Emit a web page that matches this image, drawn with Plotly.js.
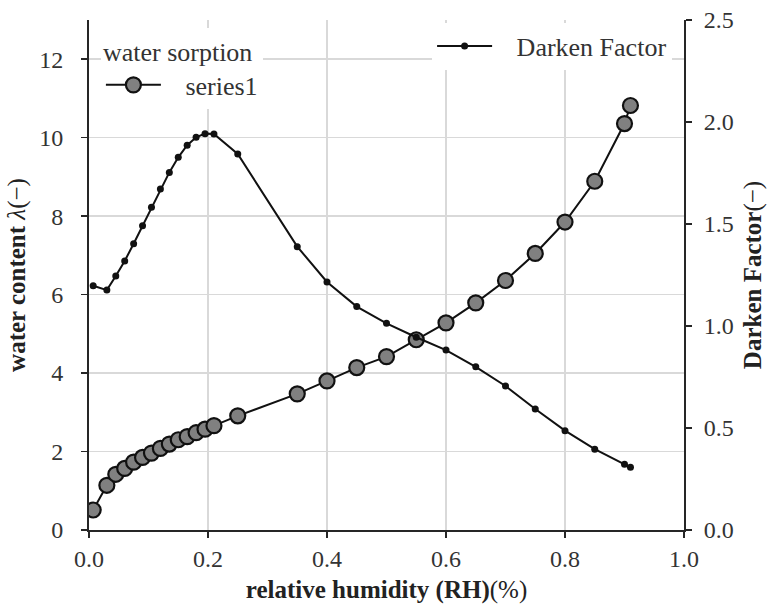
<!DOCTYPE html>
<html>
<head>
<meta charset="utf-8">
<script src="https://cdn.plot.ly/plotly-3.0.1.min.js"></script>
<style>html,body{margin:0;padding:0;background:#fff;}#chart{width:768px;height:607px;}</style>
</head>
<body>
<div id="chart"></div>
<script>
const rh = [0.007, 0.03, 0.045, 0.06, 0.075, 0.09, 0.105, 0.12, 0.135, 0.15, 0.165, 0.18, 0.195, 0.21, 0.25, 0.35, 0.40, 0.45, 0.50, 0.55, 0.60, 0.65, 0.70, 0.75, 0.80, 0.85, 0.90, 0.91];
const waterContent = [0.51, 1.14, 1.42, 1.57, 1.73, 1.85, 1.96, 2.08, 2.19, 2.30, 2.38, 2.48, 2.57, 2.66, 2.91, 3.47, 3.80, 4.14, 4.42, 4.85, 5.28, 5.79, 6.36, 7.05, 7.85, 8.89, 10.36, 10.82];
const darkenFactor = [1.197, 1.176, 1.245, 1.319, 1.403, 1.492, 1.582, 1.672, 1.753, 1.827, 1.886, 1.925, 1.943, 1.941, 1.843, 1.389, 1.216, 1.095, 1.013, 0.945, 0.882, 0.80, 0.706, 0.593, 0.487, 0.396, 0.322, 0.307];
const xTicks = [0, 0.2, 0.4, 0.6, 0.8, 1.0];
const xTickText = ['0.0', '0.2', '0.4', '0.6', '0.8', '1.0'];
const yTicks = [0, 2, 4, 6, 8, 10, 12];
const y2Ticks = [0, 0.5, 1.0, 1.5, 2.0, 2.5];
const y2TickText = ['0.0', '0.5', '1.0', '1.5', '2.0', '2.5'];
const seriesNames = ['series1', 'Darken Factor'];
const legendTitle = 'water sorption';

const FONT = '"Liberation Serif", serif';
const AX = '#262626';
const GAP = '\u00a0\u00a0\u00a0';

const traces = [
  {
    x: rh, y: waterContent, name: GAP + seriesNames[0], type: 'scatter', mode: 'lines+markers',
    line: {color: '#111', width: 2},
    marker: {color: '#808080', size: 15, line: {color: '#111', width: 2.2}},
    legend: 'legend', yaxis: 'y'
  },
  {
    x: rh, y: darkenFactor, name: GAP + seriesNames[1], type: 'scatter', mode: 'lines+markers',
    line: {color: '#111', width: 2},
    marker: {color: '#111', size: 7},
    legend: 'legend2', yaxis: 'y2'
  }
];

const layout = {
  width: 768, height: 607,
  margin: {l: 89, r: 84, t: 20, b: 77},
  paper_bgcolor: '#fff', plot_bgcolor: '#fff',
  font: {family: FONT, size: 24, color: '#333'},
  showlegend: true,
  xaxis: {
    range: [0, 1], tickvals: xTicks, ticktext: xTickText,
    showgrid: true, gridcolor: '#d9d9d9', gridwidth: 1.5,
    showline: true, linecolor: AX, linewidth: 2, mirror: false,
    ticks: 'outside', ticklen: 6, tickwidth: 1.5, tickcolor: AX,
    zeroline: false,
    tickfont: {family: FONT, size: 24, color: '#333'},
    title: {text: '<b>relative humidity (RH)</b>(%)', font: {family: FONT, size: 25, color: '#222'}, standoff: 10}
  },
  yaxis: {
    range: [0, 13], tickvals: yTicks,
    showgrid: true, gridcolor: '#d9d9d9', gridwidth: 1.5,
    showline: true, linecolor: AX, linewidth: 2,
    ticks: 'outside', ticklen: 6, tickwidth: 1.5, tickcolor: AX,
    ticklabelstandoff: 13,
    zeroline: false,
    tickfont: {family: FONT, size: 24, color: '#333'},
    title: {text: '<b>water content </b><i>λ</i>(−)', font: {family: FONT, size: 25, color: '#222'}, standoff: 6}
  },
  yaxis2: {
    range: [0, 2.5], tickvals: y2Ticks, ticktext: y2TickText,
    overlaying: 'y', side: 'right', anchor: 'x',
    showgrid: false,
    showline: true, linecolor: AX, linewidth: 2,
    ticks: 'outside', ticklen: 6, tickwidth: 1.5, tickcolor: AX,
    ticklabelstandoff: 7,
    zeroline: false,
    tickfont: {family: FONT, size: 24, color: '#333'},
    title: {text: '<b>Darken Factor</b>(−)', font: {family: FONT, size: 25, color: '#222'}, standoff: 11}
  },
  legend: {
    x: 0.02, y: 0.985, xanchor: 'left', yanchor: 'top',
    bgcolor: '#fff', borderwidth: 0,
    font: {family: FONT, size: 26, color: '#333'},
    title: {text: legendTitle, font: {family: FONT, size: 26, color: '#333'}},
    itemwidth: 55
  },
  legend2: {
    x: 0.98, y: 0.995, xanchor: 'right', yanchor: 'top',
    bgcolor: '#fff', borderwidth: 0,
    font: {family: FONT, size: 26, color: '#333'},
    itemwidth: 55
  }
};

Plotly.newPlot('chart', traces, layout, {displayModeBar: false, staticPlot: true});
</script>
</body>
</html>
